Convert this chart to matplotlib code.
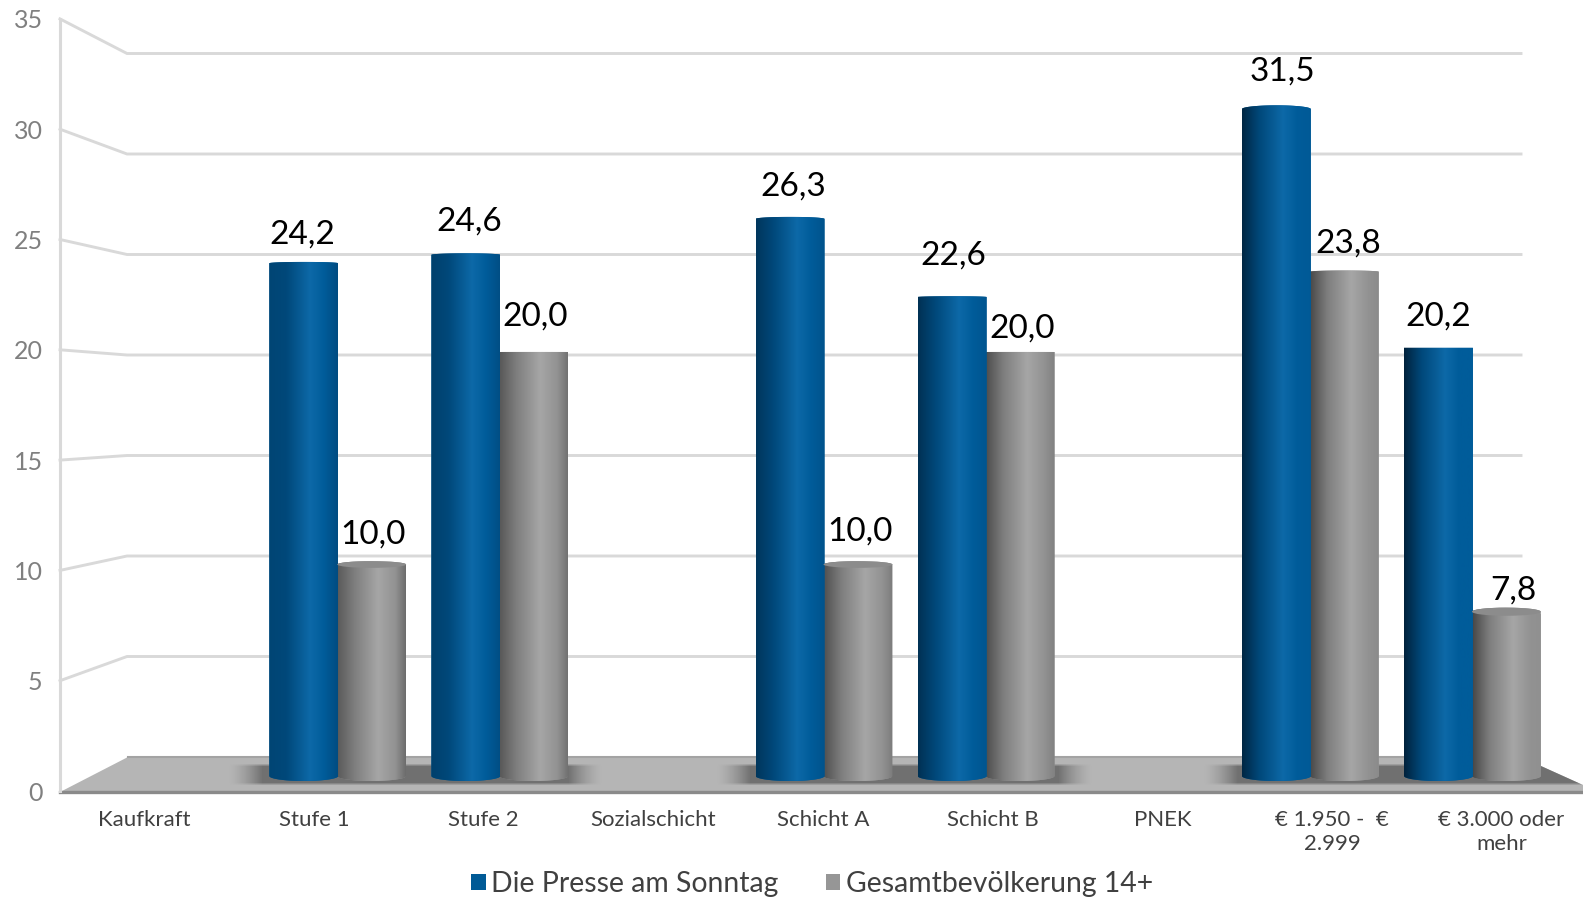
import matplotlib as mpl
mpl.use('Agg')
import matplotlib.pyplot as plt
import numpy as np
from matplotlib.colors import LinearSegmentedColormap
from matplotlib.patches import Ellipse, PathPatch, Patch, Polygon
from matplotlib.path import Path

plt.rcParams['font.family'] = ['Lato', 'DejaVu Sans']

categories = ['Kaufkraft', 'Stufe 1', 'Stufe 2', 'Sozialschicht', 'Schicht A', 'Schicht B',
              'PNEK', '€ 1.950 -  €\n2.999', '€ 3.000 oder\nmehr']
presse = [np.nan, 24.2, 24.6, np.nan, 26.3, 22.6, np.nan, 31.5, 20.2]
gesamt = [np.nan, 10.0, 20.0, np.nan, 10.0, 20.0, np.nan, 23.8, 7.8]
y_ticks = [0, 5, 10, 15, 20, 25, 30, 35]

W, H = 1583, 897
fig = plt.figure(figsize=(W / 100, H / 100), dpi=100)

# pixel axes for the fake 3d room
bg = fig.add_axes([0, 0, 1, 1], zorder=0)
bg.set_xlim(0, W)
bg.set_ylim(H, 0)
bg.axis('off')

for t in y_ticks[1:]:
    bg.plot([60, 127, 1521], [791 - t * 22.06, 757 - t * 20.1, 757 - t * 20.1],
            color='#d9d9d9', lw=2.1, solid_joinstyle='miter')

floor = Polygon([(62, 791), (128, 757), (1521, 757), (1583, 785), (1583, 791)],
                closed=True, fc='#b5b5b5', ec='none')
bg.add_patch(floor)
bg.plot([128, 1521], [757, 757], color='#a3a3a3', lw=1.5)
bg.plot([60, 1583], [792, 792], color='#8a8a8a', lw=2.4)


def shadow(x0, x1):
    xs = np.arange(x0, x1)
    ys = np.arange(763, 786)
    ax_ = np.clip(np.minimum(xs - x0, x1 - xs) / 34, 0, 1)
    ay_ = np.clip(np.minimum(ys - 763, 785 - ys) / 3, 0, 1)
    rgba = np.zeros((len(ys), len(xs), 4))
    rgba[..., :3] = 0.43
    rgba[..., 3] = np.outer(ay_, ax_ ** 1.5) * 0.95
    im = bg.imshow(rgba, extent=(x0, x1, 786, 763), aspect='auto', interpolation='bilinear', zorder=3)
    im.set_clip_path(floor)


for x0, x1 in [(228, 602), (716, 1092), (1203, 1640)]:
    shadow(x0, x1)
bg.set_xlim(0, W)
bg.set_ylim(H, 0)

# front axis: tick labels and category labels
front = fig.add_axes([60 / W, (H - 791) / H, (W - 60) / W, (791 - 19) / H], zorder=1)
front.patch.set_alpha(0)
front.set_xlim(-0.497, 8.48)
front.set_ylim(0, 35)
front.set_yticks(y_ticks)
front.set_xticks(range(len(categories)))
front.set_xticklabels(categories, fontsize=16, color='#404040', linespacing=1.2, va='top')
front.tick_params(axis='y', length=0, pad=12.5, labelsize=18, labelcolor='#808080')
front.tick_params(axis='x', length=0, pad=14)
for s in ['top', 'right', 'bottom']:
    front.spines[s].set_visible(False)
front.spines['left'].set_color('#d9d9d9')
front.spines['left'].set_linewidth(2.2)

# bars live on their own scale, the columns sit closer than the labels
ax = fig.add_axes([0, 0, 1, 1], zorder=2)
ax.patch.set_alpha(0)
ax.axis('off')
ax.set_xlim(-176.1 / 162.1, (W - 176.1) / 162.1)
ax.set_ylim(-(H - 781) / 21.45, 781 / 21.45)
ax.set_autoscale_on(False)

x = np.arange(len(categories))
bar_w = 0.425
PX = 1 / 21.45


def shade(i, blue):
    t = i / 8
    if blue:
        left = np.array([0x00, 0x4a, 0x7c]) * (1 - t) + np.array([0x01, 0x22, 0x3c]) * t
        right = np.array([0x00, 0x4a, 0x7e]) * (1 - t) + np.array([0x00, 0x5c, 0x9a]) * t
        stops = [(0, left / 255), (0.25, '#00487a'), (0.6, '#0d69a8'), (0.8, '#005c9a'), (1, right / 255)]
    else:
        left = np.array([0x5c, 0x5c, 0x5c]) * (1 - t) + np.array([0x46, 0x46, 0x46]) * t
        right = np.array([0x68, 0x68, 0x68]) * (1 - t) + np.array([0x90, 0x90, 0x90]) * t
        stops = [(0, left / 255), (0.25, '#7e7e7e'), (0.6, '#a6a6a6'), (0.85, '#929292'), (1, right / 255)]
    return LinearSegmentedColormap.from_list('c', stops)


def draw_series(vals, offset, base_color, blue, cap):
    bars = ax.bar(x + offset, vals, bar_w, color=base_color)
    for i, b in enumerate(bars):
        v = vals[i]
        if np.isnan(v):
            continue
        rim = abs(v - 20.2) * 0.33 * PX
        # low cylinders show their lid, which sits a touch above the value
        side = v - rim if v > 20.2 else v + (2 * PX if v < 15 else 0)
        top = v if v > 20.2 else side + rim
        x0, w = b.get_x(), b.get_width()
        a = np.linspace(0, np.pi, 40)
        up = np.column_stack([x0 + w / 2 + w / 2 * np.cos(a), side + (top - side) * np.sin(a)])
        low = np.column_stack([x0 + w / 2 - w / 2 * np.cos(a), 5 * PX - 5 * PX * np.sin(a)])
        pts = np.vstack([up, low, up[:1]])
        clip = PathPatch(Path(pts), transform=ax.transData, fc='none', ec='none')
        ax.add_patch(clip)
        b.set_clip_path(clip)
        grad = np.linspace(0, 1, 128).reshape(1, -1)
        im = ax.imshow(grad, extent=(x0, x0 + w, 0, top), aspect='auto', cmap=shade(i, blue), zorder=b.get_zorder())
        im.set_clip_path(clip)
        if v < 20:
            ax.add_patch(Ellipse((x0 + w / 2, side), w, 2 * rim, fc=cap, ec='none', zorder=b.get_zorder() + 0.1))


draw_series(gesamt, bar_w / 2 - 0.006, '#969696', False, '#8c8c8c')
draw_series(presse, -bar_w / 2, '#005a96', True, '#00487a')

# value labels, nudged by hand like in the original
offs_p = {1: (-1, 27), 2: (3, 32), 4: (3, 30), 5: (1, 41), 7: (6, 34), 8: (0, 31)}
offs_g = {1: (1, 32), 2: (1, 35), 4: (2, 35), 5: (2, 23), 7: (4, 27), 8: (7, 23)}
for vals, offset, offs in [(presse, -bar_w / 2, offs_p), (gesamt, bar_w / 2 - 0.006, offs_g)]:
    for i, v in enumerate(vals):
        if np.isnan(v):
            continue
        ax.annotate(f'{v:.1f}'.replace('.', ','), (x[i] + offset, v), xytext=offs[i],
                    textcoords='offset pixels', ha='center', va='center', fontsize=24, color='black')

handles = [Patch(fc='#005a96', label='Die Presse am Sonntag'), Patch(fc='#969696', label='Gesamtbevölkerung 14+')]
fig.legend(handles=handles, loc='center', bbox_to_anchor=(812 / W, 1 - 884 / H), ncol=2, frameon=False,
           fontsize=20.4, labelcolor='#404040', handlelength=0.52, handleheight=0.52,
           handletextpad=0.2, columnspacing=1.65, borderpad=0)

fig.savefig('out.png', dpi=100)
plt.close(fig)
